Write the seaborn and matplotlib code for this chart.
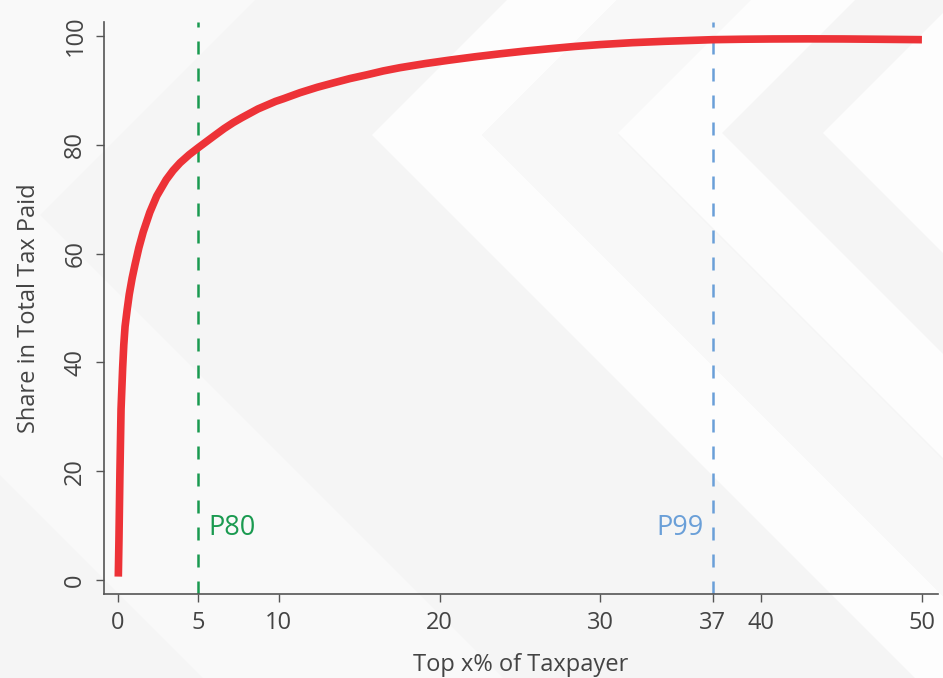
import matplotlib
matplotlib.use("Agg")
import matplotlib.pyplot as plt
import seaborn as sns
from matplotlib.patches import Polygon

# Кривая: доля в общей сумме налога для топ x% налогоплательщиков
top_pct = [0.02, 0.06, 0.12, 0.19, 0.29, 0.36, 0.44, 0.57, 0.70, 0.88, 1.06, 1.3, 1.57, 1.98,
           2.41, 3.0, 3.43, 3.86, 4.43, 5.0, 5.5, 6.0, 6.6, 7.17, 7.7, 8.2, 8.7,
           9.25, 9.8, 10.3, 11.32, 12.4, 13.4, 14.43, 15.5, 16.5, 17.54, 19.1, 20.65,
           22.2, 23.76, 25.3, 26.9, 28.4, 30.0, 32.0, 34.0, 35.5, 37.0, 38.8, 40.7,
           42.9, 45.1, 47.5, 50.0]
tax_share = [0.6, 7.4, 19.6, 31.4, 39.0, 43.2, 46.6, 49.7, 52.5, 55.5, 58.0, 61.1, 64.0, 67.6,
             70.6, 73.6, 75.3, 76.7, 78.2, 79.5, 80.6, 81.7, 83.0, 84.1, 85.0, 85.8, 86.6,
             87.3, 88.0, 88.5, 89.6, 90.6, 91.4, 92.2, 92.9, 93.6, 94.2, 94.95, 95.6,
             96.2, 96.75, 97.25, 97.7, 98.1, 98.45, 98.8, 99.05, 99.2, 99.35, 99.43, 99.48,
             99.5, 99.48, 99.42, 99.35]

# Вертикальные отметки перцентилей
markers = {'P80': 5, 'P99': 37}
x_ticks = [0, 5, 10, 20, 30, 37, 40, 50]
y_ticks = [0, 20, 40, 60, 80, 100]

sns.set_style("ticks")
plt.rcParams['font.family'] = ['Open Sans', 'DejaVu Sans']

W, H = 943, 678
fig = plt.figure(figsize=(W / 100, H / 100), dpi=100)
fig.patch.set_facecolor('#f5f5f5')


# фоновые «шевроны»
def chevron(tip_x, tip_y, width, color):
    pts = [(tip_x, tip_y), (tip_x + tip_y, 0), (tip_x + tip_y + width, 0),
           (tip_x + width, tip_y), (tip_x + width + (H - tip_y), H),
           (tip_x + (H - tip_y), H)]
    pts = [(px / W, 1 - py / H) for px, py in pts]
    fig.patches.append(Polygon(pts, closed=True, transform=fig.transFigure,
                               facecolor=color, edgecolor='none', zorder=-5))


chevron(-260, 215, 300, '#f9f9f9')
chevron(372, 135, 110, '#fdfdfd')
chevron(482, 135, 136, '#f8f8f8')
chevron(618, 133, 104, '#fdfdfd')
chevron(823, 133, 200, '#fdfdfd')

ax = fig.add_axes([104 / W, 1 - 594 / H, (938 - 104) / W, (594 - 22) / H])
ax.set_zorder(2)
ax.set_facecolor('none')

sns.lineplot(x=top_pct, y=tax_share, ax=ax, color='#ED3237', linewidth=5.5,
             solid_capstyle='butt', solid_joinstyle='round', zorder=3)

ax.axvline(markers['P80'], color='#1a9a50', linewidth=1.8, linestyle=(0, (5.2, 5.6)), zorder=2)
ax.axvline(markers['P99'], color='#6a9fd8', linewidth=1.8, linestyle=(0, (5.2, 5.6)), zorder=2)
ax.text(markers['P80'] + 0.6, 9.6, 'P80', color='#1a9a50', fontsize=19.5,
        ha='left', va='center')
ax.text(markers['P99'] - 0.55, 9.6, 'P99', color='#6a9fd8', fontsize=19.5,
        ha='right', va='center')

ax.set_xlim(-0.87, 51.0)
ax.set_ylim(-2.6, 102.6)
ax.set_xticks(x_ticks)
ax.set_yticks(y_ticks)
ax.set_xticklabels([str(v) for v in x_ticks])
ax.set_yticklabels([str(v) for v in y_ticks], rotation=90, va='center')

for s in ['top', 'right']:
    ax.spines[s].set_visible(False)
for s in ['left', 'bottom']:
    ax.spines[s].set_color('#555555')
    ax.spines[s].set_linewidth(1.2)

ax.tick_params(axis='both', length=6, width=1, color='#555555', labelcolor='#444444',
               labelsize=17, pad=6)

ax.set_xlabel('Top x% of Taxpayer', fontsize=17, color='#444444', labelpad=13)
ax.set_ylabel('Share in Total Tax Paid', fontsize=17, color='#444444', labelpad=16)

fig.savefig('out.png', dpi=100, facecolor=fig.get_facecolor())
